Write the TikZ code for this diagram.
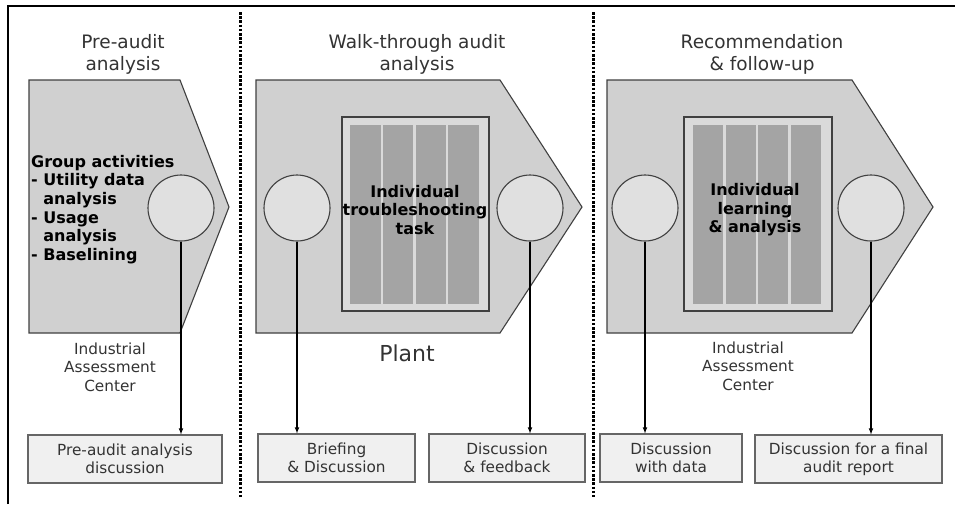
\documentclass[tikz,border=0pt]{standalone}
\usepackage{fontspec}
\setmainfont{DejaVu Sans}
\usetikzlibrary{positioning}

\definecolor{stagegray}{HTML}{D0D0D0}
\definecolor{hubgray}{HTML}{E0E0E0}
\definecolor{panelgray}{HTML}{DADADA}
\definecolor{colgray}{HTML}{A4A4A4}
\definecolor{talkgray}{HTML}{F0F0F0}
\definecolor{edgegray}{HTML}{404040}
\definecolor{inkgray}{HTML}{333333}

\tikzstyle{txt} = [text centered, inner sep=0pt]
\tikzstyle{title} = [txt, align=center, text=inkgray, font=\fontsize{18.5}{22}\selectfont]
\tikzstyle{place} = [txt, align=center, text=inkgray, font=\fontsize{15.3}{18.5}\selectfont]
\tikzstyle{task} = [txt, align=center, font=\fontsize{16}{18.5}\selectfont\bfseries]
\tikzstyle{stage} = [draw=edgegray, fill=stagegray, line width=1.1pt]
\tikzstyle{panel} = [draw=edgegray, fill=panelgray, line width=1.1pt]
\tikzstyle{hub} = [circle, draw=edgegray, fill=hubgray, line width=1.1pt, minimum size=66pt, inner sep=0pt]
\tikzstyle{talk} = [draw=gray!80!black, fill=talkgray, line width=1.1pt, align=center, text=inkgray,
                    minimum height=48pt, inner sep=0pt, font=\fontsize{15.3}{18}\selectfont]
\tikzstyle{divider} = [line width=3pt, dash pattern=on 2.6pt off 1.6pt]

\begin{document}
\begin{tikzpicture}[x=1pt, y=-1pt,
>=latex,
font=\fontsize{15}{18.5}\selectfont,
]
\useasboundingbox (0,0) rectangle (955,504);

% Frame and dividers
\draw[line width=1.6pt] (8,504) -- (8,6) -- (955,6);
\draw[divider] (240,12) -- (240,497);
\draw[divider] (593,12) -- (593,497);

%PRE-AUDIT
\node[title] (title1) at (123,54) {Pre-audit\\analysis};
\draw[stage] (29,80) -- (180,80) -- (229,207) -- (180,333) -- (29,333) -- cycle;
\node[txt, align=left, anchor=north west, font=\fontsize{16}{18.6}\selectfont\bfseries] (group) at (31,155)
  {Group activities\\- Utility data\\\hphantom{- }analysis\\- Usage\\\hphantom{- }analysis\\- Baselining};
\node[hub] (hub1) at (181,208) {};
\node[place] (iac1) at (110,367) {Industrial\\Assessment\\Center};
\node[talk, minimum width=194pt] (talk1) at (125,459) {Pre-audit analysis\\discussion};
\draw[->, line width=1.1pt] (hub1.south) -- (hub1.south |- talk1.north);

%WALK-THROUGH
\node[title] (title2) at (417,54) {Walk-through audit\\analysis};
\draw[stage] (256,80) -- (500,80) -- (582,207) -- (500,333) -- (256,333) -- cycle;
\draw[panel] (342,117) rectangle (489,311);
\foreach \c in {0,...,3} {%
 \fill[colgray] (350+\c*32.8,125) rectangle (380.5+\c*32.8,304);
}
\node[task] (task2) at (415,210) {Individual\\troubleshooting\\task};
\node[hub] (hub2a) at (297,208) {};
\node[hub] (hub2b) at (530,208) {};
\node[txt, text=inkgray, font=\fontsize{22}{24}\selectfont] (plant) at (407,353) {Plant};
\node[talk, minimum width=157pt] (talk2a) at (336.5,458) {Briefing\\\& Discussion};
\node[talk, minimum width=156pt] (talk2b) at (507,458) {Discussion\\\& feedback};
\draw[->, line width=1.1pt] (hub2a.south) -- (hub2a.south |- talk2a.north);
\draw[->, line width=1.1pt] (hub2b.south) -- (hub2b.south |- talk2b.north);

%RECOMMENDATION
\node[title] (title3) at (762,54) {Recommendation\\\& follow-up};
\draw[stage] (607,80) -- (852,80) -- (933,207) -- (852,333) -- (607,333) -- cycle;
\draw[panel] (684,117) rectangle (832,311);
\foreach \c in {0,...,3} {%
 \fill[colgray] (693+\c*32.6,125) rectangle (723+\c*32.6,304);
}
\node[task] (task3) at (755,210) {Individual\\learning\\\& analysis};
\node[hub] (hub3a) at (645,208) {};
\node[hub] (hub3b) at (871,208) {};
\node[place] (iac3) at (748,366) {Industrial\\Assessment\\Center};
\node[talk, minimum width=142pt] (talk3a) at (671,458) {Discussion\\with data};
\node[talk, minimum width=187pt] (talk3b) at (848.5,459) {Discussion for a final\\audit report};
\draw[->, line width=1.1pt] (hub3a.south) -- (hub3a.south |- talk3a.north);
\draw[->, line width=1.1pt] (hub3b.south) -- (hub3b.south |- talk3b.north);
\end{tikzpicture}
\end{document}
